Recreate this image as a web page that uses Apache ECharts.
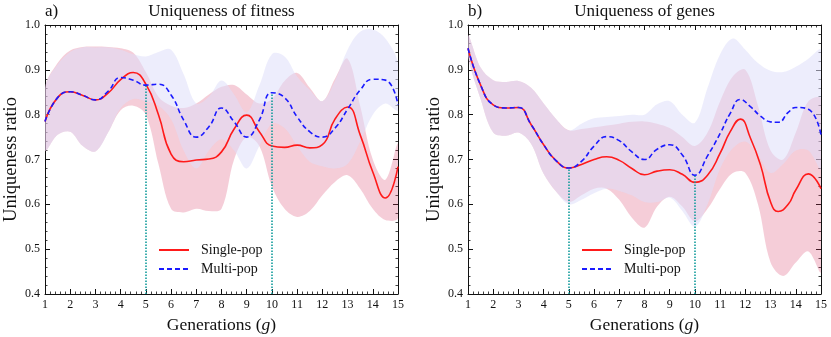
<!DOCTYPE html>
<html><head><meta charset="utf-8">
<script src="https://cdn.jsdelivr.net/npm/echarts@6/dist/echarts.min.js"></script>
<style>html,body{margin:0;padding:0;background:#fff}#c{width:831px;height:337px}</style>
</head><body><div id="c"></div>
<script>
// ---------- data ----------
const gens = [1,1.5,2,2.5,3,3.5,4,4.5,5,5.5,6,6.5,7,7.5,8,8.5,9,9.5,10,10.5,11,11.5,12,12.5,13,13.5,14,14.5,15];
// sample positions for the two mean lines of panel b) (denser around the peak/trough near 12-13)
const geneLineGens = [1,1.5,2,2.5,3,3.5,4,4.5,5,5.5,6,6.5,7,7.5,8,8.5,9,9.5,10,10.5,11,11.4,11.8,12.2,12.6,13,13.3,13.7,14,14.5,15];
const xTicks = [1,2,3,4,5,6,7,8,9,10,11,12,13,14,15];
const yTicks = [0.4,0.5,0.6,0.7,0.8,0.9,1.0];
const markGens = [5,10];
const seriesNames = ['Single-pop','Multi-pop'];
const panelTitles = ['Uniqueness of fitness','Uniqueness of genes'];
const panelTags = ['a)','b)'];

// panel a) uniqueness of fitness (lines and bands on gens)
const fitSingle   = [0.785,0.838,0.851,0.843,0.833,0.848,0.878,0.894,0.868,0.800,0.712,0.695,0.699,0.701,0.717,0.768,0.799,0.762,0.730,0.727,0.732,0.726,0.733,0.790,0.817,0.755,0.672,0.614,0.684];
const fitSingleLo = [0.720,0.755,0.762,0.730,0.718,0.760,0.810,0.820,0.800,0.690,0.590,0.582,0.590,0.585,0.590,0.700,0.750,0.730,0.640,0.590,0.572,0.585,0.620,0.650,0.665,0.635,0.590,0.565,0.570];
const fitSingleHi = [0.860,0.915,0.943,0.951,0.952,0.951,0.948,0.938,0.895,0.840,0.820,0.815,0.825,0.845,0.862,0.866,0.845,0.825,0.835,0.875,0.893,0.860,0.830,0.880,0.925,0.820,0.700,0.655,0.735];
const fitMulti    = [0.785,0.838,0.851,0.843,0.833,0.852,0.883,0.877,0.866,0.868,0.844,0.788,0.750,0.773,0.815,0.784,0.750,0.788,0.849,0.838,0.795,0.762,0.750,0.770,0.812,0.855,0.879,0.877,0.822];
const fitMultiLo  = [0.720,0.755,0.762,0.730,0.718,0.760,0.815,0.835,0.830,0.820,0.790,0.720,0.680,0.720,0.745,0.720,0.680,0.730,0.780,0.770,0.730,0.695,0.685,0.680,0.690,0.740,0.800,0.825,0.810];
const fitMultiHi  = [0.860,0.912,0.940,0.950,0.950,0.950,0.945,0.935,0.930,0.940,0.945,0.890,0.825,0.840,0.876,0.845,0.805,0.865,0.935,0.930,0.885,0.855,0.830,0.875,0.945,0.985,0.990,0.970,0.915];

// panel b) uniqueness of genes (lines on geneLineGens, bands on gens)
const geneSingle   = [0.948,0.866,0.822,0.815,0.816,0.778,0.733,0.697,0.681,0.689,0.700,0.706,0.698,0.680,0.666,0.674,0.677,0.667,0.649,0.665,0.714,0.762,0.790,0.748,0.688,0.605,0.584,0.600,0.632,0.668,0.635];
const geneMulti    = [0.948,0.866,0.822,0.815,0.816,0.778,0.733,0.697,0.681,0.696,0.730,0.751,0.742,0.717,0.700,0.723,0.733,0.710,0.665,0.708,0.758,0.803,0.834,0.818,0.797,0.784,0.783,0.805,0.816,0.812,0.755];
const geneSingleLo = [0.930,0.835,0.760,0.753,0.760,0.735,0.668,0.628,0.605,0.620,0.635,0.635,0.610,0.570,0.548,0.595,0.617,0.595,0.562,0.590,0.635,0.670,0.670,0.600,0.470,0.440,0.470,0.495,0.450];
const geneSingleHi = [0.978,0.905,0.877,0.873,0.875,0.860,0.825,0.790,0.765,0.768,0.772,0.776,0.780,0.784,0.785,0.780,0.770,0.750,0.730,0.760,0.830,0.885,0.900,0.820,0.720,0.700,0.760,0.830,0.835];
const geneMultiLo  = [0.930,0.835,0.760,0.753,0.760,0.735,0.668,0.628,0.600,0.610,0.625,0.635,0.630,0.620,0.605,0.605,0.615,0.585,0.550,0.600,0.680,0.725,0.740,0.710,0.670,0.690,0.720,0.720,0.680];
const geneMultiHi  = [0.978,0.905,0.877,0.873,0.875,0.860,0.825,0.790,0.765,0.780,0.792,0.795,0.797,0.800,0.800,0.823,0.830,0.800,0.782,0.860,0.935,0.970,0.945,0.915,0.898,0.895,0.907,0.925,0.944];

// ---------- chart ----------
const FONT = '"Liberation Serif", "DejaVu Serif", serif';
const INK = '#111';
const RED = '#ff1a1a', BLUE = '#1a1aff', TEAL = '#129c9c';
const RED_BAND = 'rgba(215,55,100,0.25)', BLUE_BAND = 'rgba(222,222,250,0.55)';

const grids = [
  {left:45, top:25, width:353, height:269},
  {left:468, top:25, width:353, height:269}
];

const pairs = (xs, arr) => xs.map((g,i)=>[g, arr[i]]);

function xAx(gi, pos, labels){
  return {type:'value', gridIndex:gi, position:pos, min:xTicks[0], max:xTicks[xTicks.length-1], interval:1,
    axisLine:{show:true,onZero:false,lineStyle:{color:INK,width:1}},
    axisTick:{show:true,inside:true,length:5,lineStyle:{color:INK,width:1}},
    minorTick:{show:true,splitNumber:5,length:2.5,lineStyle:{color:INK,width:0.8}},
    splitLine:{show:false},
    axisLabel:{show:labels,color:INK,fontFamily:FONT,fontSize:12,margin:5,showMinLabel:true,showMaxLabel:true},
    name: labels ? '{n|Generations (}{i|g}{n|)}' : '',
    nameLocation:'middle', nameGap:22,
    nameTextStyle:{rich:{n:{fontFamily:FONT,fontSize:17.5,color:INK},i:{fontFamily:FONT,fontSize:17.5,fontStyle:'italic',color:INK}}}
  };
}
function yAx(gi, pos, labels){
  return {type:'value', gridIndex:gi, position:pos, min:yTicks[0], max:yTicks[yTicks.length-1], interval:0.1,
    axisLine:{show:true,onZero:false,lineStyle:{color:INK,width:1}},
    axisTick:{show:true,inside:true,length:5,lineStyle:{color:INK,width:1}},
    minorTick:{show:true,splitNumber:5,length:2.5,lineStyle:{color:INK,width:0.8}},
    splitLine:{show:false},
    axisLabel:{show:labels,color:INK,fontFamily:FONT,fontSize:12,margin:5,formatter:v=>v.toFixed(1),showMinLabel:true,showMaxLabel:true},
    name: labels ? 'Uniqueness ratio' : '',
    nameLocation:'middle', nameGap:24,
    nameTextStyle:{fontFamily:FONT,fontSize:18.5,color:INK}
  };
}

// band drawn as one smoothed polygon through the library's own coordinate mapping
function bandSeries(gi, lo, hi, color, z){
  return {
    type:'custom', name:'band'+gi+z, xAxisIndex:gi*2, yAxisIndex:gi*2, silent:true, clip:true, z:z,
    data: gens.map((g,i)=>[g, lo[i], hi[i]]),
    encode:{x:0, y:[1,2]},
    renderItem:(params, api)=>{
      if (params.dataIndex !== 0) return null;
      const pts = [];
      for (let i=0;i<gens.length;i++) pts.push(api.coord([gens[i], hi[i]]));
      for (let i=gens.length-1;i>=0;i--) pts.push(api.coord([gens[i], lo[i]]));
      const cs = params.coordSys;
      return {type:'polygon', shape:{points:pts, smooth:0.35,
                smoothConstraint:[[cs.x, cs.y],[cs.x+cs.width, cs.y+cs.height]]},
              style:{fill:color, stroke:null}};
    }
  };
}

function panelSeries(gi, lineX, single, sLo, sHi, multi, mLo, mHi){
  const common = {type:'line', xAxisIndex:gi*2, yAxisIndex:gi*2, smooth:0.5, symbol:'none', silent:true};
  return [
    bandSeries(gi, sLo, sHi, RED_BAND, 1),
    bandSeries(gi, mLo, mHi, BLUE_BAND, 2),
    Object.assign({}, common, {name:seriesNames[0], data:pairs(lineX, single), lineStyle:{color:RED,width:1.6}, itemStyle:{color:RED}, z:4}),
    Object.assign({}, common, {name:seriesNames[1], data:pairs(lineX, multi), lineStyle:{color:BLUE,width:1.6,type:[5,3]}, itemStyle:{color:BLUE}, z:5,
      markLine:{silent:true, symbol:['none','none'], label:{show:false}, animation:false,
        lineStyle:{color:TEAL, type:[1.5,1.5], width:1.6},
        data: markGens.map(g => [{coord:[g, yTicks[0]]}, {coord:[g, multi[lineX.indexOf(g)]]}])
      }})
  ];
}

const option = {
  animation:false,
  backgroundColor:'#fff',
  grid: grids.map(g=>Object.assign({containLabel:false, outerBoundsMode:'none'}, g)),
  xAxis:[xAx(0,'bottom',true), xAx(0,'top',false), xAx(1,'bottom',true), xAx(1,'top',false)],
  yAxis:[yAx(0,'left',true), yAx(0,'right',false), yAx(1,'left',true), yAx(1,'right',false)],
  legend: grids.map((g,i)=>({
    data:seriesNames, orient:'vertical', left: g.left + 113, top: 243, padding:0,
    itemWidth:30, itemHeight:10, itemGap:5,
    itemStyle:{opacity:0, borderWidth:0},
    textStyle:{fontFamily:FONT, fontSize:14, color:INK, padding:[0,0,0,7]},
    selectedMode:false
  })),
  graphic: grids.flatMap((g,i)=>[
    {type:'text', left:g.left, top:3, style:{text:panelTags[i], fontFamily:FONT, fontSize:17, fill:INK}},
    {type:'text', x:g.left + g.width/2, y:12, style:{text:panelTitles[i], fontFamily:FONT, fontSize:17, fill:INK, align:'center', verticalAlign:'middle'}}
  ]),
  series: [
    ...panelSeries(0, gens, fitSingle, fitSingleLo, fitSingleHi, fitMulti, fitMultiLo, fitMultiHi),
    ...panelSeries(1, geneLineGens, geneSingle, geneSingleLo, geneSingleHi, geneMulti, geneMultiLo, geneMultiHi)
  ]
};
const chart = echarts.init(document.getElementById('c'));
chart.setOption(option);
</script>
</body></html>
